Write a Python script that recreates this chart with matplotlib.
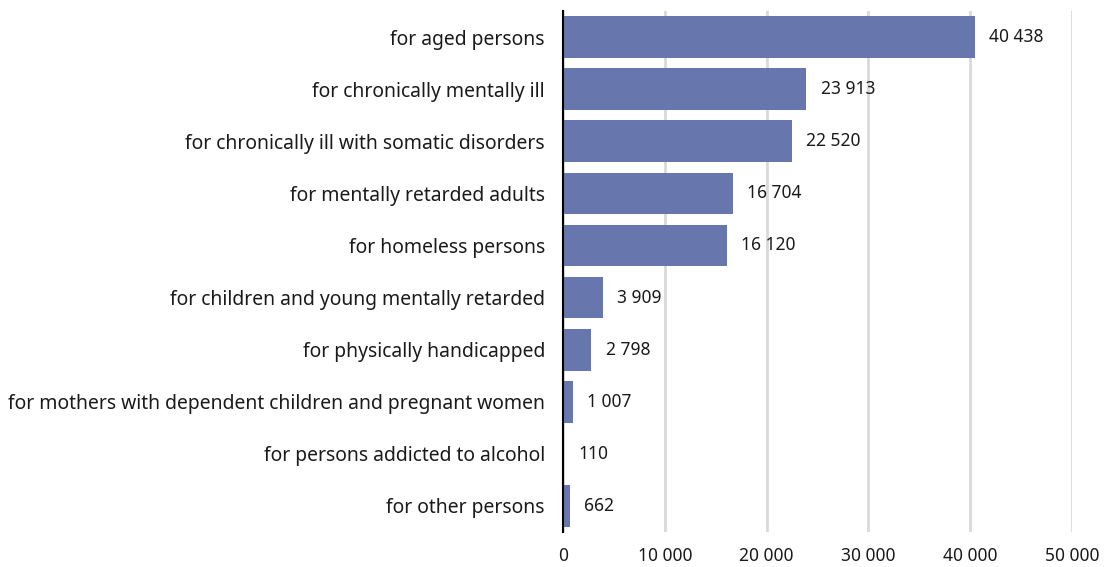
import matplotlib.pyplot as plt

# dados do grafico
categorias = [
    "for aged persons",
    "for chronically mentally ill",
    "for chronically ill with somatic disorders",
    "for mentally retarded adults",
    "for homeless persons",
    "for children and young mentally retarded",
    "for physically handicapped",
    "for mothers with dependent children and pregnant women",
    "for persons addicted to alcohol",
    "for other persons",
]
valores = [40438, 23913, 22520, 16704, 16120, 3909, 2798, 1007, 110, 662]
ticks_x = [0, 10000, 20000, 30000, 40000, 50000]


def fmt(v):
    # separador de milhar com espaco
    return f"{v:,}".replace(",", " ")


plt.rcParams['font.family'] = ['Noto Sans', 'DejaVu Sans']

fig = plt.figure(figsize=(11.05, 5.67), dpi=100)
ax = fig.add_axes([0.5095, 0.0617, 0.4606, 0.9189])

pos = list(range(len(categorias)))
ax.barh(pos, valores, height=0.8, color='#6777ae', zorder=3)

for p, v in zip(pos, valores):
    ax.text(v + 1400, p, fmt(v), va='center', ha='left', fontsize=12.5, color='#1a1a1a')

ax.set_xlim(0, 50000)
ax.set_ylim(len(categorias) - 0.5, -0.5)
ax.set_yticks(pos)
ax.set_yticklabels(categorias, fontsize=13.9, color='#1a1a1a')
ax.set_xticks(ticks_x)
ax.set_xticklabels([fmt(t) for t in ticks_x], fontsize=12.5, color='#1a1a1a')

ax.grid(axis='x', color='#d9d9d9', linewidth=2, zorder=0)
for s in ['top', 'right', 'bottom']:
    ax.spines[s].set_visible(False)
ax.spines['left'].set_color('black')
ax.spines['left'].set_linewidth(1.5)
ax.spines['left'].set_zorder(4)
ax.tick_params(axis='both', length=0)
ax.tick_params(axis='y', pad=13)
ax.tick_params(axis='x', pad=11)

fig.savefig('out.png', dpi=100)
